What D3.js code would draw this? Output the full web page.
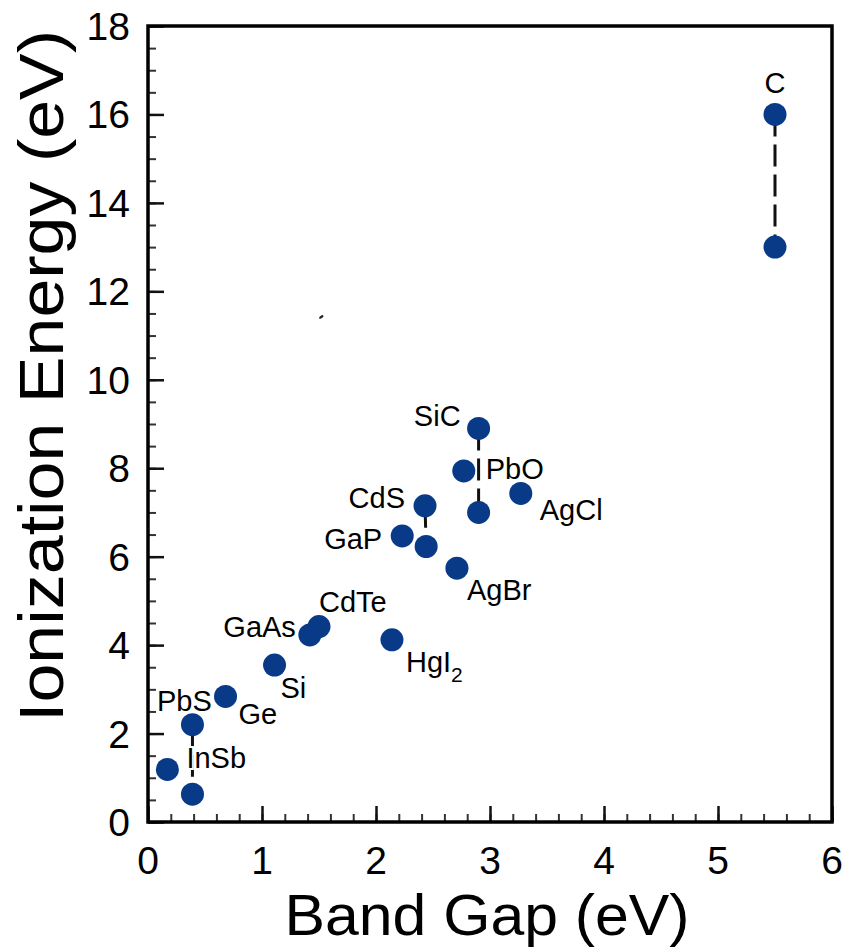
<!DOCTYPE html>
<html>
<head>
<meta charset="utf-8">
<script src="https://cdn.jsdelivr.net/npm/d3@7"></script>
<style>
  body { margin: 0; background: #fff; }
  svg text { font-family: "Liberation Sans", Arial, Helvetica, sans-serif; fill: #000; }
</style>
</head>
<body>
<div id="chart"></div>
<script>
// values
var names      = ["C", "C", "SiC", "SiC", "PbO", "AgCl", "CdS", "CdS", "GaP", "AgBr",
                  "CdTe", "GaAs", "HgI2", "Si", "Ge", "PbS", "PbS", "InSb"];
var bandGap    = [5.5, 5.5, 2.9, 2.9, 2.77, 3.27, 2.43, 2.44, 2.23, 2.71,
                  1.5, 1.42, 2.14, 1.11, 0.68, 0.39, 0.39, 0.17];
var ionization = [16.0, 13.0, 8.9, 7.0, 7.94, 7.43, 7.15, 6.23, 6.47, 5.74,
                  4.42, 4.23, 4.12, 3.55, 2.84, 2.2, 0.63, 1.19];
var xTicks = [0, 1, 2, 3, 4, 5, 6];
var yTicks = [0, 2, 4, 6, 8, 10, 12, 14, 16, 18];
var specks = [[1.52, 11.42]]; // small stray mark in the original

// label placement (pixel offsets from the first point of each compound)
var labelPos = {
  "C":    [0, -21, "middle"],
  "SiC":  [-18, -2, "end"],
  "PbO":  [22, 8, "start"],
  "AgCl": [19, 27, "start"],
  "CdS":  [-20, 2, "end"],
  "GaP":  [-20, 13, "end"],
  "AgBr": [10, 32, "start"],
  "CdTe": [0, -15, "start"],
  "GaAs": [-14, 2, "end"],
  "HgI2": [14, 32, "start"],
  "Si":   [6, 33, "start"],
  "Ge":   [13, 28, "start"],
  "PbS":  [-8, -14, "middle"],
  "InSb": [19, -1, "start"]
};

(function() {
  var W = 843, H = 948;
  var mLeft = 148, mRight = 832, mTop = 26, mBottom = 822;
  var dotColor = "#083a88";

  var svg = d3.select("#chart").append("svg")
    .attr("width", W).attr("height", H);

  var x = d3.scaleLinear().domain([0, 6]).range([mLeft, mRight]);
  var y = d3.scaleLinear().domain([0, 18]).range([mBottom, mTop]);

  // minor + major ticks, pointing inward
  var xMinor = d3.range(0, 6.001, 0.2);
  var yMinor = d3.range(0, 18.001, 0.5);

  function tickStyle(col, w) {
    return function(g) {
      g.select(".domain").remove();
      g.selectAll("line").attr("stroke", col).attr("stroke-width", w);
    };
  }

  svg.append("g")
    .attr("transform", "translate(0," + mBottom + ")")
    .call(d3.axisTop(x).tickValues(xMinor).tickSize(8).tickFormat(""))
    .call(tickStyle("#333", 2));
  svg.append("g")
    .attr("transform", "translate(0," + mBottom + ")")
    .call(d3.axisTop(x).tickValues(xTicks).tickSize(16).tickFormat(""))
    .call(tickStyle("#111", 2.5));

  svg.append("g")
    .attr("transform", "translate(" + mLeft + ",0)")
    .call(d3.axisRight(y).tickValues(yMinor).tickSize(8).tickFormat(""))
    .call(tickStyle("#333", 2));
  svg.append("g")
    .attr("transform", "translate(" + mLeft + ",0)")
    .call(d3.axisRight(y).tickValues(yTicks).tickSize(16).tickFormat(""))
    .call(tickStyle("#111", 2.5));

  // frame
  svg.append("rect")
    .attr("x", mLeft).attr("y", mTop)
    .attr("width", mRight - mLeft).attr("height", mBottom - mTop)
    .attr("fill", "none").attr("stroke", "#000").attr("stroke-width", 3.5);

  // tick labels
  svg.selectAll(".xl").data(xTicks).enter().append("text")
    .attr("x", function(d){ return x(d); })
    .attr("y", 874)
    .attr("text-anchor", "middle")
    .style("font-size", "39px")
    .text(function(d){ return d; });

  svg.selectAll(".yl").data(yTicks).enter().append("text")
    .attr("x", 130)
    .attr("y", function(d){ return y(d) + 14; })
    .attr("text-anchor", "end")
    .style("font-size", "39px")
    .text(function(d){ return d; });

  // axis titles
  svg.append("text")
    .attr("x", 487).attr("y", 935)
    .attr("text-anchor", "middle")
    .attr("textLength", 405)
    .attr("lengthAdjust", "spacingAndGlyphs")
    .style("font-size", "58px")
    .text("Band Gap (eV)");

  svg.append("text")
    .attr("transform", "translate(63,376) rotate(-90)")
    .attr("text-anchor", "middle")
    .attr("textLength", 692)
    .attr("lengthAdjust", "spacingAndGlyphs")
    .style("font-size", "63px")
    .text("Ionization Energy (eV)");

  // points
  var pts = names.map(function(n, i){ return { name: n, bg: bandGap[i], ie: ionization[i] }; });

  // dashed lines joining two values of the same compound
  var groups = d3.groups(pts, function(d){ return d.name; })
    .filter(function(g){ return g[1].length === 2; });

  svg.selectAll(".pair").data(groups).enter().append("line")
    .attr("x1", function(g){ return x(g[1][0].bg); })
    .attr("y1", function(g){ return y(g[1][0].ie); })
    .attr("x2", function(g){ return x(g[1][1].bg); })
    .attr("y2", function(g){ return y(g[1][1].ie); })
    .attr("stroke", "#111")
    .attr("stroke-width", 3)
    .attr("stroke-dasharray", "22,8");

  svg.selectAll(".dot").data(pts).enter().append("circle")
    .attr("cx", function(d){ return x(d.bg); })
    .attr("cy", function(d){ return y(d.ie); })
    .attr("r", 11.5)
    .attr("fill", dotColor);

  svg.selectAll(".speck").data(specks).enter().append("ellipse")
    .attr("transform", function(d){ return "translate(" + x(d[0]) + "," + y(d[1]) + ") rotate(-35)"; })
    .attr("rx", 2.5).attr("ry", 1.3)
    .attr("fill", "#222");

  // labels (white halo so they knock out the dashed lines they sit on)
  var firsts = d3.groups(pts, function(d){ return d.name; }).map(function(g){ return g[1][0]; });

  firsts.forEach(function(d){
    var p = labelPos[d.name];
    var t = svg.append("text")
      .attr("x", x(d.bg) + p[0])
      .attr("y", y(d.ie) + p[1])
      .attr("text-anchor", p[2])
      .attr("stroke", "#fff")
      .attr("stroke-width", 4)
      .attr("paint-order", "stroke")
      .style("font-size", "29px");
    if (d.name === "HgI2") {
      t.append("tspan").text("HgI");
      t.append("tspan").attr("dy", 10).style("font-size", "21px").text("2");
    } else {
      t.text(d.name);
    }
  });
})();
</script>
</body>
</html>
